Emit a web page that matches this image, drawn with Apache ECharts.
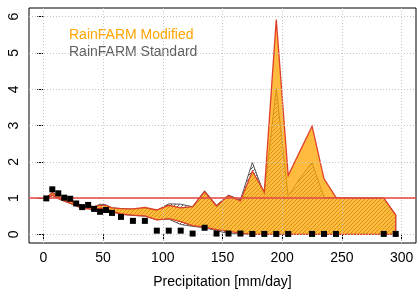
<!DOCTYPE html>
<html lang="en">
<head>
    <meta charset="UTF-8">
    <title>RainFARM</title>
    <script type="text/javascript" src="https://cdn.jsdelivr.net/npm/echarts@6/dist/echarts.min.js"></script>
    <style>
        html, body { margin: 0; padding: 0; background: #fff; }
        #main { width: 418px; height: 294px; }
    </style>
</head>
<body>
<div id="main"></div>
<script type="text/javascript">
    // bin centres [mm/day]
    var xs = [2.5, 7.5, 12.5, 17.5, 22.5, 27.5, 32.5, 37.5, 42.5, 47.5, 52.5, 57.5,
              65, 75, 85, 95, 105, 115, 125, 135, 145, 155, 165, 175, 185, 195,
              205, 215, 225, 235, 245, 255, 265, 275, 285, 295];
    // black squares
    var obs = [0.99, 1.24, 1.13, 1.01, 0.98, 0.85, 0.75, 0.81, 0.70, 0.62, 0.67, 0.59,
               0.48, 0.37, 0.37, 0.10, 0.10, 0.10, 0.02, 0.18, 0.02, 0.02, 0.02, 0.01, 0.01, 0.01,
               0.01, null, 0.01, 0.01, 0.01, null, null, null, 0.01, 0.01];
    // RainFARM Modified band
    var modHi = [1.00, 1.15, 1.05, 0.97, 0.92, 0.85, 0.79, 0.78, 0.76, 0.80, 0.80, 0.73,
                 0.71, 0.70, 0.74, 0.67, 0.80, 0.73, 0.76, 1.17, 0.78, 1.06, 0.92, 1.74, 1.17, 5.92,
                 1.62, 2.30, 2.98, 1.53, 1.02, 1.00, 1.00, 1.00, 1.00, 0.53];
    var modLo = [0.97, 1.08, 0.99, 0.92, 0.86, 0.79, 0.72, 0.71, 0.69, 0.72, 0.70, 0.63,
                 0.56, 0.53, 0.51, 0.40, 0.43, 0.35, 0.24, 0.20, 0.13, 0.08, 0.03, 0.00, 0.00, 0.00,
                 0.00, 0.00, 0.00, 0.00, 0.00, 0.00, 0.00, 0.00, 0.00, 0.00];
    // RainFARM Standard band
    var stdHi = [1.00, 1.15, 1.04, 0.96, 0.91, 0.84, 0.79, 0.78, 0.76, 0.83, 0.81, 0.73,
                 0.71, 0.69, 0.72, 0.66, 0.84, 0.83, 0.76, 1.20, 0.80, 1.08, 0.95, 1.98, 1.10, 4.02,
                 1.05, 1.55, 1.98, 1.02, 1.00, 1.00, 1.00, 1.00, 1.00, 0.53];
    var stdLo = [0.97, 1.07, 0.98, 0.91, 0.85, 0.78, 0.71, 0.70, 0.68, 0.71, 0.69, 0.62,
                 0.55, 0.52, 0.50, 0.40, 0.42, 0.27, 0.22, 0.18, 0.10, 0.02, 0.01, 0.00, 0.00, 0.00,
                 0.00, 0.00, 0.00, 0.00, 0.00, 0.00, 0.00, 0.00, 0.00, 0.00];
    var xTicks = [0, 50, 100, 150, 200, 250, 300];
    var yTicks = [0, 1, 2, 3, 4, 5, 6];

    var font = '"Liberation Sans", Arial, Helvetica, sans-serif';

    // hatch pattern for the standard band
    var hatch = document.createElement('canvas');
    hatch.width = 4; hatch.height = 4;
    var hc = hatch.getContext('2d');
    hc.strokeStyle = 'rgba(60,60,60,0.95)';
    hc.lineWidth = 0.9;
    hc.beginPath();
    hc.moveTo(-1, 5); hc.lineTo(5, -1);
    hc.moveTo(-1, 1); hc.lineTo(1, -1);
    hc.moveTo(3, 5); hc.lineTo(5, 3);
    hc.stroke();

    function band(hi, lo, style) {
        return function (params, api) {
            var pts = [];
            for (var i = 0; i < xs.length; i++) pts.push(api.coord([xs[i], hi[i]]));
            for (var j = xs.length - 1; j >= 0; j--) pts.push(api.coord([xs[j], lo[j]]));
            return { type: 'polygon', shape: { points: pts }, style: style };
        };
    }

    var gridLines = [];
    xTicks.forEach(function (v) { gridLines.push({ xAxis: v }); });
    yTicks.forEach(function (v) { gridLines.push({ yAxis: v }); });

    var scatterData = [];
    for (var i = 0; i < xs.length; i++) {
        if (obs[i] !== null) scatterData.push([xs[i], obs[i]]);
    }

    var myChart = echarts.init(document.getElementById('main'));
    var option = {
        animation: false,
        textStyle: { fontFamily: font },
        grid: { left: 29, right: 2, top: 8, bottom: 47, show: true, borderColor: '#000', borderWidth: 1 },
        xAxis: {
            type: 'value', min: -12, max: 312,
            name: 'Precipitation [mm/day]', nameLocation: 'middle', nameGap: 32,
            nameTextStyle: { fontSize: 14, color: '#000', fontFamily: font },
            axisLine: { show: false },
            axisTick: { show: true, customValues: xTicks, length: 6, lineStyle: { color: '#000' } },
            axisLabel: { customValues: xTicks, fontSize: 14, color: '#000', margin: 8, fontFamily: font },
            splitLine: { show: false }
        },
        yAxis: {
            type: 'value', min: -0.24, max: 6.24,
            axisLine: { show: false },
            axisTick: { show: true, customValues: yTicks, length: 6, lineStyle: { color: '#000' } },
            axisLabel: { customValues: yTicks, fontSize: 14, color: '#000', margin: 8, rotate: 90, fontFamily: font },
            splitLine: { show: false }
        },
        graphic: [
            { type: 'text', left: 69, top: 28, style: { text: 'RainFARM Modified', fill: '#ffa500', font: '14px ' + font } },
            { type: 'text', left: 69, top: 45, style: { text: 'RainFARM Standard', fill: '#5f5f5f', font: '14px ' + font } }
        ],
        series: [
            {
                name: 'grid', type: 'scatter', data: [], z: 1, silent: true,
                markLine: {
                    silent: true, symbol: 'none', label: { show: false },
                    lineStyle: { color: '#c4c4c4', type: [1, 2], width: 1 },
                    data: gridLines
                }
            },
            {
                name: 'RainFARM Standard', type: 'custom', z: 2, data: [[0, 0]],
                renderItem: band(stdHi, stdLo, { fill: { image: hatch, repeat: 'repeat' }, stroke: '#555', lineWidth: 1 })
            },
            {
                name: 'RainFARM Modified', type: 'custom', z: 3, data: [[0, 0]],
                renderItem: band(modHi, modLo, { fill: 'rgba(255,165,0,0.76)', stroke: '#e0402a', lineWidth: 1.3 })
            },
            {
                name: 'obs', type: 'scatter', z: 5, data: scatterData,
                symbol: 'rect', symbolSize: 6,
                itemStyle: { color: '#000', opacity: 1 },
                markLine: {
                    silent: true, symbol: 'none', label: { show: false },
                    lineStyle: { color: '#e4463f', type: 'solid', width: 1.6, opacity: 1 },
                    data: [{ yAxis: 1 }]
                }
            }
        ]
    };
    myChart.setOption(option);
</script>
</body>
</html>
